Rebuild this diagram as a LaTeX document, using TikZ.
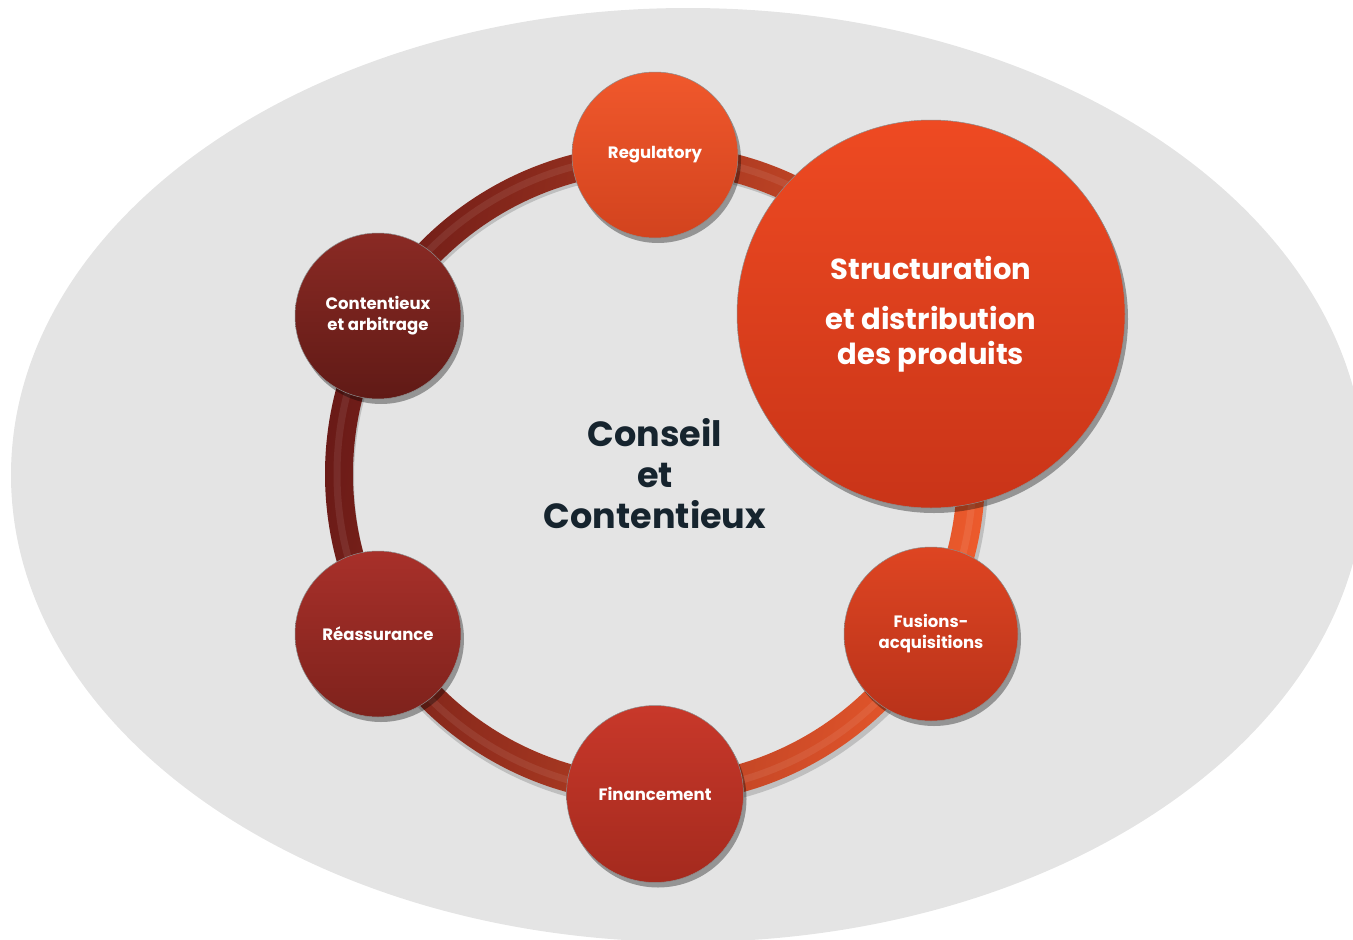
\documentclass[tikz,border=0pt]{standalone}
\usepackage{fontspec}
\setmainfont{Poppins}
\usetikzlibrary{shadows,calc}
\definecolor{bgG}{HTML}{E4E4E4}
\definecolor{ringA}{HTML}{6A1A17}
\definecolor{ringM}{HTML}{A82C20}
\definecolor{ringB}{HTML}{EC5A2C}
\definecolor{regT}{HTML}{F0582C}
\definecolor{regB}{HTML}{D2431E}
\definecolor{strT}{HTML}{EE4A22}
\definecolor{strB}{HTML}{C93418}
\definecolor{fusT}{HTML}{DE4522}
\definecolor{fusB}{HTML}{B8321A}
\definecolor{finT}{HTML}{C8382A}
\definecolor{finB}{HTML}{A42A1E}
\definecolor{reaT}{HTML}{A8302A}
\definecolor{reaB}{HTML}{7E221C}
\definecolor{conT}{HTML}{8A2A24}
\definecolor{conB}{HTML}{601A16}
\definecolor{titleC}{HTML}{16242E}
\begin{document}
\begin{tikzpicture}[x=1pt,y=-1pt,
  bub/.style={circle, draw=black!45, line width=0.5pt, text=white,
    font=\bfseries, align=center, inner sep=0pt,
    drop shadow={shadow xshift=3pt, shadow yshift=-5pt, opacity=0.35, fill=black}},
  small/.style={font=\fontsize{16.5}{21}\selectfont\bfseries},
]
\useasboundingbox (0,0) rectangle (1353,940);
% background ellipse
\fill[bgG] (688,475) ellipse [x radius=677pt, y radius=467pt];
% ring
\coordinate (ctr) at (655,474);
\fill[black, opacity=0.16, even odd rule] ($(ctr)+(2,4)$) circle (331pt) ($(ctr)+(2,4)$) circle (303pt);
\shade[top color=ringA, middle color=ringM, bottom color=ringB, shading angle=80, even odd rule]
  (ctr) circle (330pt) (ctr) circle (302pt);
\draw[white, opacity=0.08, line width=7pt] (ctr) circle (318pt);
% nodes
\node[bub, top color=regT, bottom color=regB, minimum size=166pt, small] (reg) at (655,155) {Regulatory};
\node[bub, top color=conT, bottom color=conB, minimum size=166pt, small] (cont) at (378,316) {Contentieux\\et arbitrage};
\node[bub, top color=reaT, bottom color=reaB, minimum size=166pt, small] (rea) at (378,634) {Réassurance};
\node[bub, top color=finT, bottom color=finB, minimum size=177pt, small] (fin) at (655,794) {Financement};
\node[bub, top color=fusT, bottom color=fusB, minimum size=174pt, small] (fus) at (931,634) {Fusions-\\acquisitions};
\node[bub, top color=strT, bottom color=strB, minimum size=388pt,
  font=\fontsize{29}{35}\selectfont\bfseries] (str) at (931,314)
  {Structuration\\[15pt]et distribution\\des produits};
% centre title
\node[text=titleC, align=center, font=\fontsize{35}{41}\selectfont\bfseries] (title) at (ctr) {Conseil\\et\\Contentieux};
\end{tikzpicture}
\end{document}
